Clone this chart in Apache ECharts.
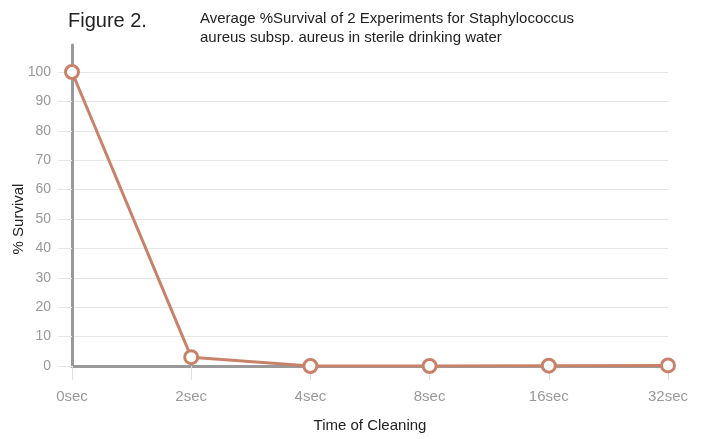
<!DOCTYPE html>
<html><head><meta charset="utf-8">
<script src="https://cdn.jsdelivr.net/npm/echarts@6/dist/echarts.min.js"></script>
<style>html,body{margin:0;padding:0;background:#fff}#c{width:701px;height:439px}</style>
</head><body><div id="c"></div>
<script>
const categories = ['0sec','2sec','4sec','8sec','16sec','32sec'];
const survival = [100, 3, 0, 0, 0.1, 0.2];
const yTicks = [0,10,20,30,40,50,60,70,80,90,100];
const FONT = '"Liberation Sans", Arial, sans-serif';
const chart = echarts.init(document.getElementById('c'));
chart.setOption({
  animation: false,
  title: [
    {text: 'Figure 2.', left: 63, top: 6, textStyle: {fontFamily: FONT, fontSize: 20, fontWeight: 'normal', color: '#222'}},
    {text: 'Average %Survival of 2 Experiments for Staphylococcus\naureus subsp. aureus in sterile drinking water', left: 195, top: 4,
     textStyle: {fontFamily: FONT, fontSize: 15, fontWeight: 'normal', color: '#222', lineHeight: 19}}
  ],
  grid: [
    {left: 72, right: 33, top: 72, bottom: 73, containLabel: false, outerBoundsMode: 'none'},
    {left: 72, right: 33, top: 45, height: 27, containLabel: false, outerBoundsMode: 'none'}
  ],
  xAxis: [{
    type: 'category', data: categories, boundaryGap: false, gridIndex: 0,
    axisLine: {lineStyle: {color: '#999', width: 3}},
    axisTick: {show: true, length: 14, lineStyle: {color: '#e0e0e0', width: 1}},
    axisLabel: {fontFamily: FONT, fontSize: 15, color: '#999', margin: 23},
    name: 'Time of Cleaning', nameLocation: 'middle', nameGap: 52, nameMoveOverlap: false,
    nameTextStyle: {fontFamily: FONT, fontSize: 15, color: '#222'}
  }, {
    type: 'category', gridIndex: 1, data: categories, show: false
  }],
  yAxis: [{
    type: 'value', min: 0, max: 100, interval: 10, gridIndex: 0,
    axisLine: {show: true, lineStyle: {color: '#999', width: 3}},
    axisTick: {show: true, length: 14, lineStyle: {color: '#e6e6e6', width: 1}},
    axisLabel: {fontFamily: FONT, fontSize: 14, color: '#999', margin: 21},
    splitLine: {lineStyle: {color: '#e6e6e6', width: 1}},
    name: '% Survival', nameLocation: 'middle', nameGap: 46, nameRotate: 90, nameMoveOverlap: false,
    nameTextStyle: {fontFamily: FONT, fontSize: 15, color: '#222'}
  }, {
    type: 'value', gridIndex: 1, min: 0, max: 1,
    axisLine: {show: true, lineStyle: {color: '#999', width: 3}},
    axisTick: {show: false}, axisLabel: {show: false}, splitLine: {show: false}
  }],
  series: [{
    type: 'line', data: survival, xAxisIndex: 0, yAxisIndex: 0,
    symbol: 'circle', symbolSize: 13,
    lineStyle: {color: '#c9826a', width: 3},
    itemStyle: {color: '#fff', borderColor: '#c9826a', borderWidth: 3},
    z: 5
  }]
});
</script></body></html>
